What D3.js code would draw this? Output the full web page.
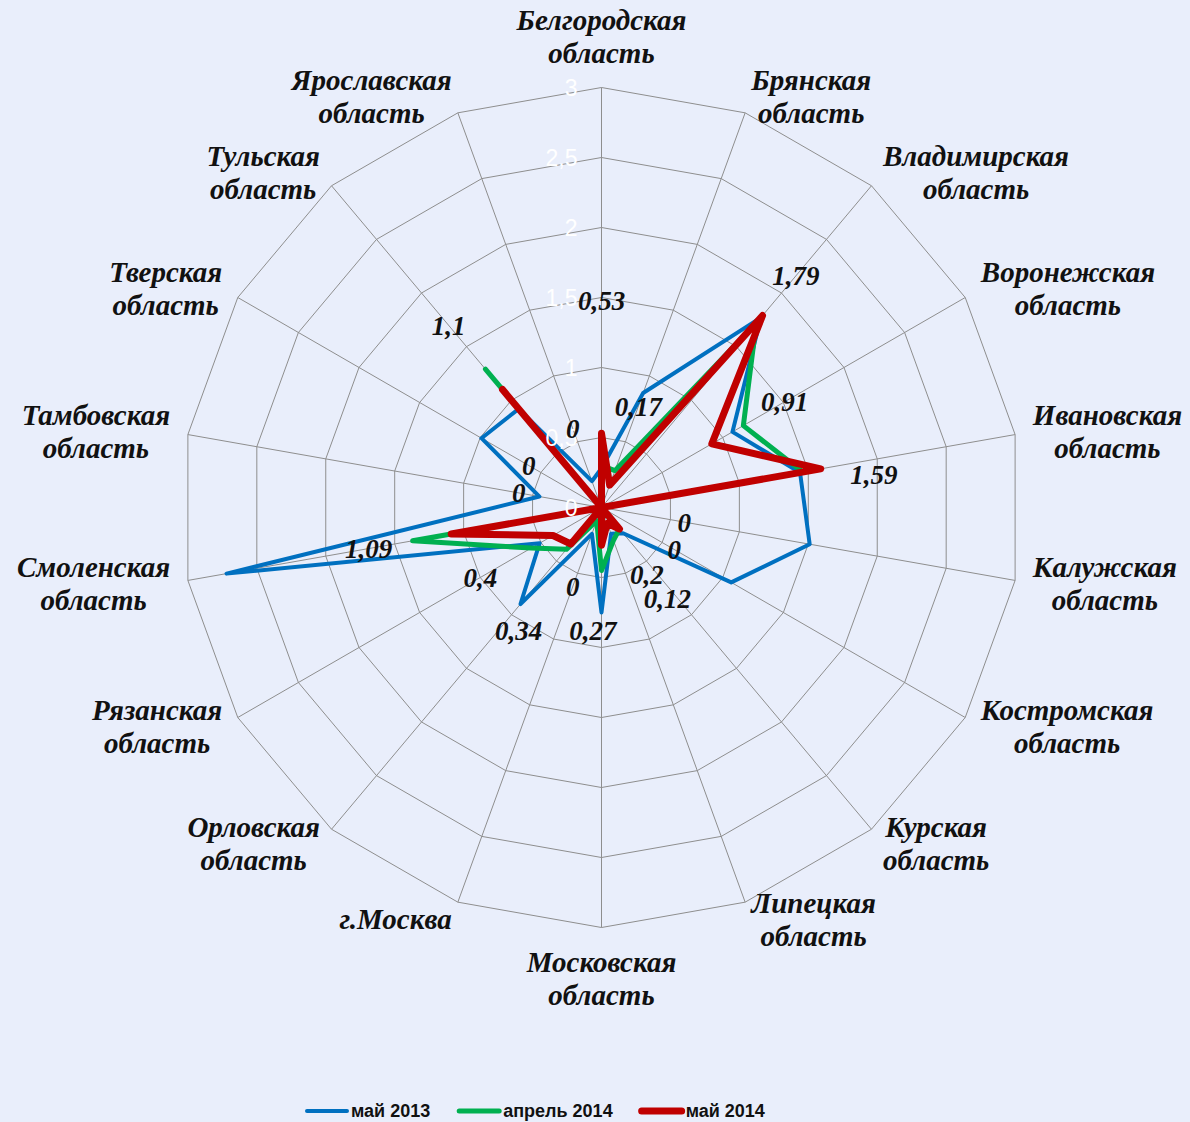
<!DOCTYPE html>
<html>
<head>
<meta charset="utf-8">
<script src="https://cdn.jsdelivr.net/npm/d3@7/dist/d3.min.js"></script>
<style>
  body { margin: 0; background: #e9eefb; }
  svg { display: block; }
</style>
</head>
<body>
<div class="chart"></div>
<script>
// data
var regions = [
  "Белгородская область", "Брянская область", "Владимирская область",
  "Воронежская область", "Ивановская область", "Калужская область",
  "Костромская область", "Курская область", "Липецкая область",
  "Московская область", "г.Москва", "Орловская область",
  "Рязанская область", "Смоленская область", "Тамбовская область",
  "Тверская область", "Тульская область", "Ярославская область"
];
var may2013 = [0.28, 0.87, 1.77, 1.08, 1.44, 1.51, 1.07, 0.24, 0.2, 0.75, 0.2, 0.9, 0.51, 2.72, 0.45, 0.99, 0.92, 0.2];
var apr2014 = [0.3, 0.28, 1.72, 1.17, 1.46, 0, 0, 0.2, 0.25, 0.45, 0.1, 0.39, 0.58, 1.37, 0, 0, 1.29, 0];
var may2014 = [0.53, 0.17, 1.79, 0.91, 1.59, 0, 0, 0.2, 0.12, 0.27, 0, 0.34, 0.4, 1.09, 0, 0, 1.1, 0];
var seriesNames = ["май 2013", "апрель 2014", "май 2014"];
var ticks = [0, 0.5, 1, 1.5, 2, 2.5, 3];
var tickLabels = ["0", "0,5", "1", "1,5", "2", "2,5", "3"];

// setting up the chart
var widthSVG = 1190;
var heightSVG = 1122;
var cx = 601.5;
var cy = 507.5;
var radius = 420;

var series = [
  { name: seriesNames[0], values: may2013, color: "#0070c0", width: 4 },
  { name: seriesNames[1], values: apr2014, color: "#00b050", width: 5 },
  { name: seriesNames[2], values: may2014, color: "#c00000", width: 7 }
];

// value labels that were dragged away from the default spot (pad in value units, turn in degrees)
var labelNudge = {
  0: { pad: 0.95, turn: 0 },
  2: { pad: 0.37, turn: 0 },
  4: { pad: 0.37, turn: 3 },
  7: { pad: 0.38, turn: 6 },
  8: { pad: 0.68, turn: -16 },
  9: { pad: 0.61, turn: 4 },
  11: { pad: 0.72, turn: -6 }
};

var svg = d3.select(".chart")
  .append("svg")
  .attr("width", widthSVG)
  .attr("height", heightSVG);

var chart = svg.append("g")
  .attr("transform", `translate(${cx}, ${cy})`);

var rScale = d3.scaleLinear()
  .domain([0, 3])
  .range([0, radius]);

var angleStep = 2 * Math.PI / regions.length;

function pointAt(i, v, turn) {
  var a = i * angleStep + (turn || 0) * Math.PI / 180;
  return [rScale(v) * Math.sin(a), -rScale(v) * Math.cos(a)];
}

// grid rings (straight polygons)
var ringLine = d3.line();
chart.selectAll(".ring")
  .data(ticks.slice(1))
  .enter()
  .append("path")
  .attr("class", "ring")
  .attr("d", t => ringLine(regions.map((r, i) => pointAt(i, t))) + "Z")
  .attr("fill", "none")
  .attr("stroke", "#8e8e8e")
  .attr("stroke-width", 1);

// spokes
chart.selectAll(".spoke")
  .data(regions)
  .enter()
  .append("line")
  .attr("class", "spoke")
  .attr("x1", 0)
  .attr("y1", 0)
  .attr("x2", (d, i) => pointAt(i, 3)[0])
  .attr("y2", (d, i) => pointAt(i, 3)[1])
  .attr("stroke", "#8e8e8e")
  .attr("stroke-width", 1);

// series lines
var radar = d3.lineRadial()
  .angle((d, i) => i * angleStep)
  .radius(d => rScale(d))
  .curve(d3.curveLinearClosed);

chart.selectAll(".series")
  .data(series)
  .enter()
  .append("path")
  .attr("class", "series")
  .attr("d", d => radar(d.values))
  .attr("fill", "none")
  .attr("stroke", d => d.color)
  .attr("stroke-width", d => d.width)
  .attr("stroke-linejoin", "round")
  .attr("stroke-linecap", "round");

// tick labels, white, along the top spoke
chart.selectAll(".tick")
  .data(ticks)
  .enter()
  .append("text")
  .attr("class", "tick")
  .attr("x", -24)
  .attr("y", d => -rScale(d))
  .attr("dy", "0.36em")
  .attr("text-anchor", "end")
  .attr("fill", "#ffffff")
  .attr("font-family", "Liberation Sans, Arial, sans-serif")
  .attr("font-size", 23)
  .text((d, i) => tickLabels[i]);

// value labels of the last series
chart.selectAll(".valueLabel")
  .data(may2014)
  .enter()
  .append("text")
  .attr("class", "valueLabel")
  .each(function (d, i) {
    var n = labelNudge[i] || { pad: 0.6, turn: 0 };
    var p = pointAt(i, d + n.pad, n.turn);
    d3.select(this).attr("x", p[0]).attr("y", p[1]);
  })
  .attr("dy", "0.35em")
  .attr("text-anchor", "middle")
  .attr("font-family", "Liberation Serif, Times New Roman, serif")
  .attr("font-weight", "bold")
  .attr("font-style", "italic")
  .attr("font-size", 27)
  .attr("fill", "#111")
  .text(d => String(d).replace(".", ","));

// category labels outside the outer ring
var lineGap = 33;
regions.forEach(function (name, i) {
  var lines = name.indexOf(" ") > 0 ? name.split(" ") : [name];
  var a = i * angleStep;
  var s = Math.sin(a), c = Math.cos(a);
  var ax = (radius + 18) * s;
  var ay = -(radius + 18) * c;

  var g = chart.append("g").attr("class", "category");
  var texts = g.selectAll("text")
    .data(lines)
    .enter()
    .append("text")
    .attr("text-anchor", "middle")
    .attr("font-family", "Liberation Serif, Times New Roman, serif")
    .attr("font-weight", "bold")
    .attr("font-style", "italic")
    .attr("font-size", 29)
    .attr("fill", "#111")
    .text(d => d);

  var w = d3.max(texts.nodes(), n => n.getComputedTextLength());
  var h = lines.length * lineGap;
  var bx, by;
  if (Math.abs(s) < 0.05) {
    bx = ax;
    by = c > 0 ? ay - h / 2 : ay + h / 2;
  } else {
    bx = s > 0 ? ax + w / 2 : ax - w / 2;
    by = ay;
  }
  texts.attr("x", bx)
    .attr("y", (d, k) => by - h / 2 + lineGap * (k + 0.5))
    .attr("dy", "0.35em");
});

// legend
var legend = svg.append("g")
  .attr("transform", "translate(305, 1111)");
var lx = 0;
series.forEach(function (d) {
  legend.append("line")
    .attr("x1", lx + 2)
    .attr("x2", lx + 42)
    .attr("y1", 0)
    .attr("y2", 0)
    .attr("stroke", d.color)
    .attr("stroke-width", d.width)
    .attr("stroke-linecap", "round");
  var t = legend.append("text")
    .attr("x", lx + 46)
    .attr("y", 0)
    .attr("dy", "0.36em")
    .attr("font-family", "Liberation Sans, Arial, sans-serif")
    .attr("font-weight", "bold")
    .attr("font-size", 18)
    .attr("fill", "#111")
    .text(d.name);
  lx += 46 + t.node().getComputedTextLength() + 27;
});
</script>
</body>
</html>
